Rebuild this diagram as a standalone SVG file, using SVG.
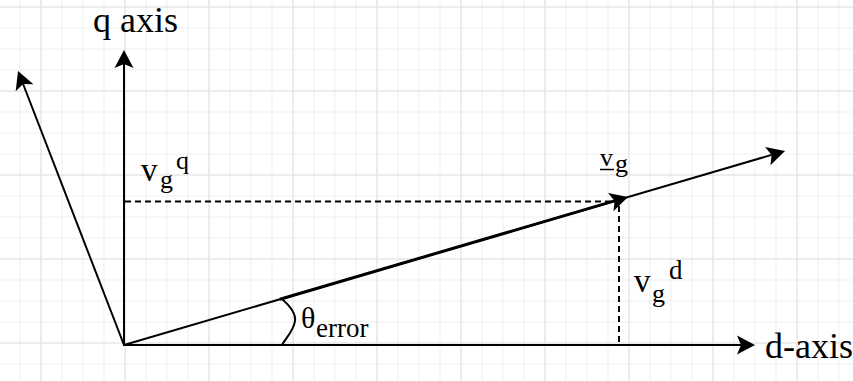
<svg xmlns="http://www.w3.org/2000/svg" width="853" height="381" viewBox="0 0 853 381">
<style>
.minor{stroke:#efefef;stroke-width:1}
.major{stroke:#e2e2e2;stroke-width:1}
.ln{stroke:#000;stroke-width:2;fill:none}
.thick{stroke:#000;stroke-width:3;fill:none}
.dash{stroke:#000;stroke-width:2;stroke-dasharray:6 4;fill:none}
.t{font-family:"Liberation Serif","Times New Roman",serif;fill:#000}
</style>
<defs>
<marker id="arr" markerUnits="userSpaceOnUse" viewBox="-6 -11 22 22" refX="0" refY="0" markerWidth="22" markerHeight="22" orient="auto" overflow="visible">
<path d="M14,0 L-4,-9.5 L0,0 L-4,9.5 Z" fill="#000"/>
</marker>
</defs>
<rect width="853" height="381" fill="#fff"/>
<g id="grid">
<path class="minor" d="M20,0V381M41,0V381M62,0V381M83,0V381M104,0V381M125,0V381M146,0V381M167,0V381M188,0V381M209,0V381M230,0V381M251,0V381M272,0V381M293,0V381M314,0V381M335,0V381M356,0V381M377,0V381M398,0V381M419,0V381M440,0V381M461,0V381M482,0V381M503,0V381M524,0V381M545,0V381M566,0V381M587,0V381M608,0V381M629,0V381M650,0V381M671,0V381M692,0V381M713,0V381M734,0V381M755,0V381M776,0V381M797,0V381M818,0V381M839,0V381"/>
<path class="minor" d="M0,7H853M0,28H853M0,49H853M0,70H853M0,91H853M0,112H853M0,133H853M0,154H853M0,175H853M0,196H853M0,217H853M0,238H853M0,259H853M0,280H853M0,301H853M0,322H853M0,343H853M0,364H853"/>
<path class="major" d="M41,0V381M125,0V381M209,0V381M293,0V381M377,0V381M461,0V381M545,0V381M629,0V381M713,0V381M797,0V381M0,7H853M0,91H853M0,175H853M0,259H853M0,343H853"/>
</g>
<g id="connectors">
<line class="ln" x1="124" y1="345" x2="124" y2="64" marker-end="url(#arr)"/>
<line class="ln" x1="124" y1="345" x2="23.1" y2="84" marker-end="url(#arr)"/>
<line class="ln" x1="123" y1="345" x2="741" y2="345" marker-end="url(#arr)"/>
<line class="ln" x1="124" y1="345" x2="771.6" y2="154.9" marker-end="url(#arr)"/>
<line class="thick" x1="280" y1="299.2" x2="614.6" y2="200.9" marker-end="url(#arr)"/>
<line class="dash" x1="125" y1="201.5" x2="612" y2="201.5"/>
<line class="dash" x1="619" y1="206" x2="619" y2="344"/>
<path class="ln" d="M282,299 C290,306 296,314 295,321 C294,330 286,338 282,345"/>
</g>
<g id="q-axis-label"><text class="t" x="93" y="32" font-size="36">q axis</text></g>
<g id="d-axis-label"><text class="t" x="765" y="358" font-size="36">d-axis</text></g>
<g id="vgq-label">
<text class="t" x="141" y="181" font-size="33">v</text>
<text class="t" x="160" y="188" font-size="26">g</text>
<text class="t" x="176" y="169" font-size="26">q</text>
</g>
<g id="vg-label">
<text class="t" x="600" y="166" font-size="26">v</text>
<line x1="600" y1="169.5" x2="614" y2="169.5" stroke="#000" stroke-width="1.5"/>
<text class="t" x="615" y="172" font-size="26">g</text>
</g>
<g id="vgd-label">
<text class="t" x="634" y="292" font-size="33">v</text>
<text class="t" x="652" y="302" font-size="26">g</text>
<text class="t" x="669" y="279" font-size="27">d</text>
</g>
<g id="theta-label">
<text class="t" x="301" y="328" font-size="30">θ</text>
<text class="t" x="316" y="337" font-size="27">error</text>
</g>
</svg>
